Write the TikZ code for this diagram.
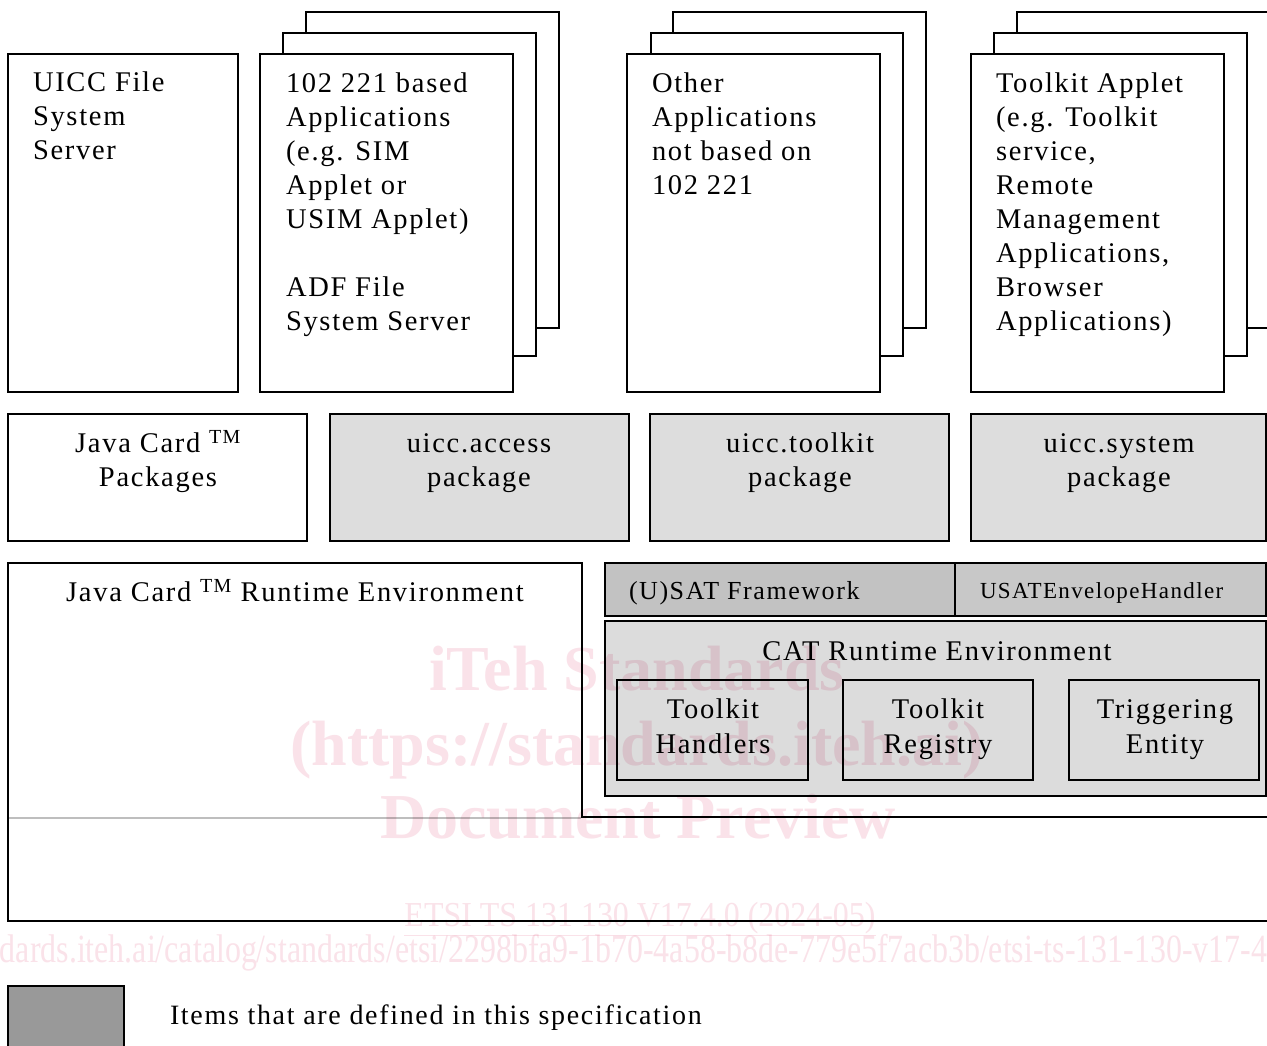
\documentclass[tikz,border=0pt]{standalone}
\usepackage{fontspec}
\usepackage{graphicx}
\setmainfont{Liberation Serif}[LetterSpace=6]
\newfontfamily\wmfont{Liberation Serif}
\definecolor{pkg}{RGB}{221,221,221}
\definecolor{satc}{RGB}{194,194,194}
\definecolor{hndc}{RGB}{200,200,200}
\definecolor{catc}{RGB}{220,220,220}
\definecolor{legc}{RGB}{153,153,153}
\definecolor{wmc}{RGB}{250,226,233}
\newcommand\topst{\rule{0pt}{30pt}}
\newcommand\mybox[6]{\node[box,#6,minimum width={#4-#2},minimum height={#5-#3}] (#1) at (#2,#3) {};}
\tikzset{
  box/.style={draw=black,line width=2pt,fill=white,inner sep=0pt,outer sep=0pt,anchor=north west},
  pkgbox/.style={fill=pkg},
  satbox/.style={fill=satc},
  hndbox/.style={fill=hndc},
  catbox/.style={fill=catc},
  legbox/.style={fill=legc},
  txt/.style={inner sep=0pt,outer sep=0pt,font=\fontsize{28.5}{34}\selectfont},
  wm/.style={inner sep=0pt,outer sep=0pt,text=wmc},
}
\begin{document}
\begin{tikzpicture}[x=1pt,y=-1pt]
\useasboundingbox (0,0) rectangle (1267,1046);
\clip (0,0) rectangle (1267,1046);
\fill[white] (0,0) rectangle (1267,1046);
% top row
\mybox{uicc}{8}{54}{238}{392}{}
\mybox{aA}{306}{12}{559}{328}{}
\mybox{aB}{283}{33}{536}{356}{}
\mybox{aC}{260}{54}{513}{392}{}
\mybox{oA}{673}{12}{926}{328}{}
\mybox{oB}{651}{33}{903}{356}{}
\mybox{oC}{627}{54}{880}{392}{}
\mybox{tA}{1017}{12}{1290}{328}{}
\mybox{tB}{994}{33}{1247}{356}{}
\mybox{tC}{971}{54}{1224}{392}{}
\node[txt,anchor=north west,align=left] (uiccT) at (33,92-30) {\topst UICC File\\System\\Server};
\node[txt,anchor=north west,align=left] (aT) at (286,92-30) {\topst 102 221 based\\Applications\\(e.g. SIM\\Applet or\\USIM Applet)\\[34pt]ADF File\\System Server};
\node[txt,anchor=north west,align=left] (oT) at (652,92-30) {\topst Other\\Applications\\not based on\\102 221};
\node[txt,anchor=north west,align=left] (tT) at (996,92-30) {\topst Toolkit Applet\\(e.g. Toolkit\\service,\\Remote\\Management\\Applications,\\Browser\\Applications)};
% packages row
\mybox{jcp}{8}{414}{307}{541}{}
\mybox{acc}{330}{414}{629}{541}{pkgbox}
\mybox{tlk}{650}{414}{949}{541}{pkgbox}
\mybox{sys}{971}{414}{1266}{541}{pkgbox}
\node[txt,anchor=north,align=center] (jcpT) at (158,452.7-30) {\topst Java Card \textsuperscript{TM}\\Packages};
\node[txt,anchor=north,align=center] (accT) at (479,452.7-30) {\topst uicc.access\\package};
\node[txt,anchor=north,align=center] (tlkT) at (800,452.7-30) {\topst uicc.toolkit\\package};
\node[txt,anchor=north,align=center] (sysT) at (1119,452.7-30) {\topst uicc.system\\package};
% runtime environment outline
\coordinate (r1) at (1290,817);
\coordinate (r2) at (582,817);
\coordinate (r3) at (582,563);
\coordinate (r4) at (8,563);
\coordinate (r5) at (8,921);
\coordinate (r6) at (1290,921);
\draw[line width=2pt,line join=miter] (r1) -- (r2) -- (r3) -- (r4) -- (r5) -- (r6);
\coordinate (g1) at (9,818);
\coordinate (g2) at (581,818);
\draw[line width=1.2pt,draw={rgb,255:red,190;green,190;blue,190}] (g1) -- (g2);
\node[txt,anchor=base] (jcre) at (295,601.7) {Java Card \textsuperscript{TM} Runtime Environment};
% (U)SAT framework
\mybox{sat}{605}{563}{955}{616}{satbox}
\mybox{env}{955}{563}{1266}{616}{hndbox}
\node[txt,font=\fontsize{26}{30}\selectfont,anchor=base west] (satT) at (629,599) {(U)SAT Framework};
\node[txt,font=\fontsize{23}{28}\selectfont,anchor=base west] (envT) at (980,598) {USATEnvelopeHandler};
% CAT runtime
\mybox{cat}{605}{621}{1266}{796}{catbox}
\node[txt,anchor=base] (catT) at (937,660) {CAT Runtime Environment};
\mybox{th}{617}{680}{808}{780}{catbox}
\mybox{tr}{843}{680}{1033}{780}{catbox}
\mybox{te}{1069}{680}{1259}{780}{catbox}
\node[txt,font=\fontsize{28.5}{35}\selectfont,anchor=north,align=center] (thT) at (713,718-30) {\topst Toolkit\\Handlers};
\node[txt,font=\fontsize{28.5}{35}\selectfont,anchor=north,align=center] (trT) at (938,718-30) {\topst Toolkit\\Registry};
\node[txt,font=\fontsize{28.5}{35}\selectfont,anchor=north,align=center] (teT) at (1165,718-30) {\topst Triggering\\Entity};
% legend
\mybox{leg}{8}{986}{124}{1060}{legbox}
\node[txt,font=\fontsize{28}{34}\selectfont,anchor=base west] (legT) at (170,1024) {Items that are defined in this specification};
% watermark
\begin{scope}[blend mode=multiply]
\node[wm,font=\wmfont\bfseries\fontsize{64}{64}\selectfont,anchor=base] (w1) at (637,690) {iTeh Standards};
\node[wm,font=\wmfont\bfseries\fontsize{64}{64}\selectfont,anchor=base] (w2) at (637,765) {(https://standards.iteh.ai)};
\node[wm,font=\wmfont\bfseries\fontsize{64}{64}\selectfont,anchor=base] (w3) at (638,838) {Document Preview};
\node[wm,font=\wmfont\fontsize{35}{35}\selectfont,anchor=base] (w4) at (640,926) {\resizebox{471pt}{\height}{\underline{ETSI TS 131 130 V17.4.0 (2024-05)}}};
\node[wm,font=\wmfont\fontsize{40}{40}\selectfont,anchor=base west] (w5) at (0,962) {\resizebox{1267pt}{\height}{dards.iteh.ai/catalog/standards/etsi/2298bfa9-1b70-4a58-b8de-779e5f7acb3b/etsi-ts-131-130-v17-4}};
\end{scope}
\end{tikzpicture}
\end{document}
